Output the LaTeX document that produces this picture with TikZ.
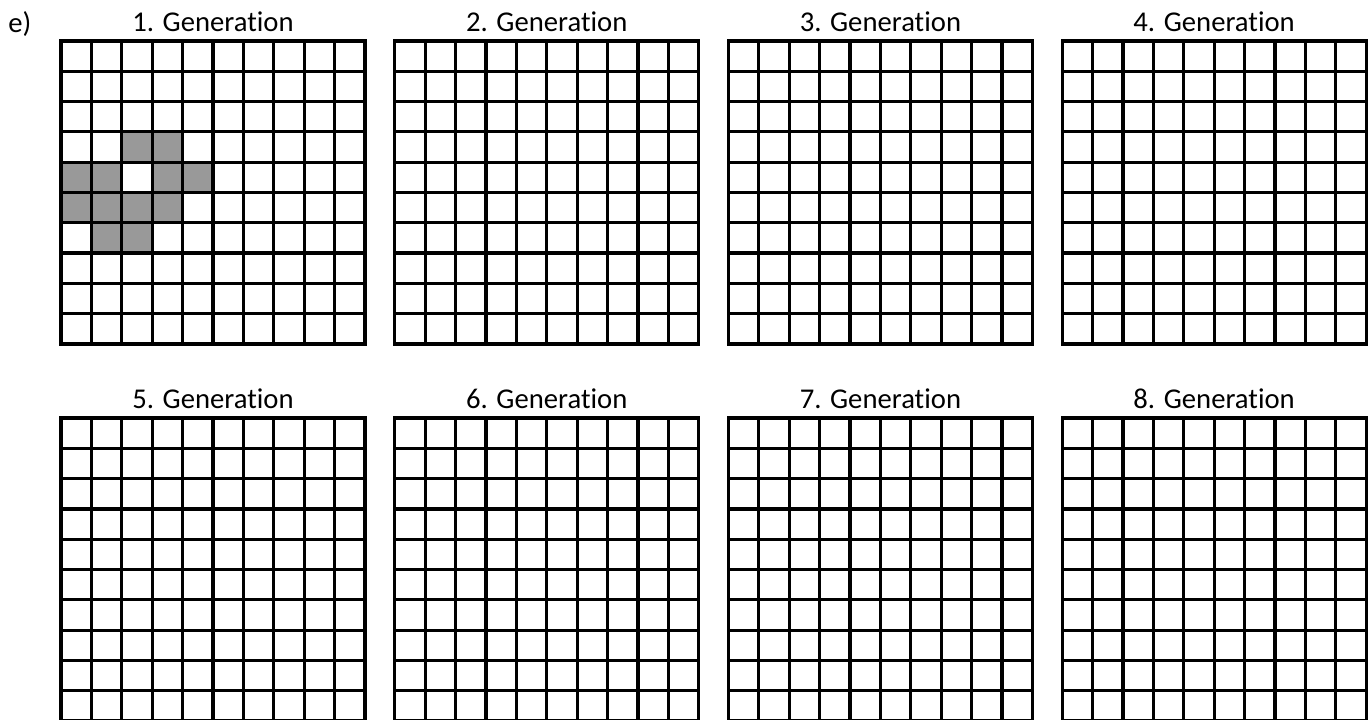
\documentclass[tikz,border=0pt]{standalone}
\usepackage{fontspec}
\setmainfont{Carlito}[Ligatures=NoCommon]
\usetikzlibrary{positioning}
\tikzset{
    gridline/.style={line width=2.4pt,draw=black},
    livecell/.style={fill=black!40},
    gentitle/.style={anchor=base,inner sep=0pt},
    every node/.style={font=\fontsize{21.5}{26}\selectfont}
}

\begin{document}
\begin{tikzpicture}[x=0.75pt,y=-0.75pt]
  \useasboundingbox (0,0) rectangle (1372,720);
  \clip (0,0) rectangle (1372,720);
  \node[gentitle,anchor=base west] (part) at (8,33) {e)};
  % live cells of the first generation (column,row)
  \foreach \c/\r in {2/3,3/3,0/4,1/4,3/4,4/4,0/5,1/5,2/5,3/5,1/6,2/6}{
    \fill[livecell] (61+\c*30.4,41+\r*30.3) rectangle ++(30.4,30.3);
  }
  \foreach \n in {1,...,8}{
    \pgfmathsetmacro\gx{61+333.7*mod(\n-1,4)}
    \pgfmathsetmacro\gy{\n>4 ? 418 : 41}
    \node[gentitle] (gen\n) at (\gx+152,\gy-9) {\n. Generation};
    \begin{scope}[shift={(\gx,\gy)}]
      \foreach \i in {0,...,10}{
        \draw[gridline] (\i*30.4,0) -- (\i*30.4,303);
        \draw[gridline] (0,\i*30.3) -- (304,\i*30.3);
      }
      \draw[gridline,line cap=rect] (0,0) rectangle (304,303);
    \end{scope}
  }
\end{tikzpicture}
\end{document}
